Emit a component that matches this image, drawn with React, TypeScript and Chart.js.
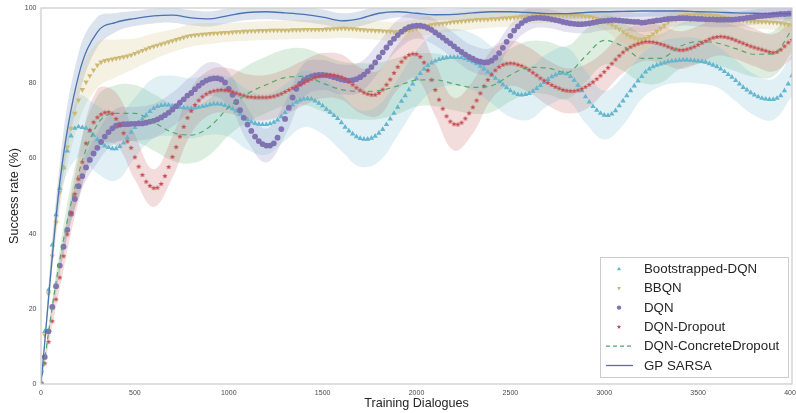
import React, { useEffect, useRef } from 'react';
import { Chart, registerables } from 'chart.js';

Chart.register(...registerables);

// ---------- data ----------
const X_TICKS = [0, 500, 1000, 1500, 2000, 2500, 3000, 3500, 4000];
const Y_TICKS = [0, 20, 40, 60, 80, 100];
const SERIES_LABELS = ['Bootstrapped-DQN', 'BBQN', 'DQN', 'DQN-Dropout', 'DQN-ConcreteDropout', 'GP SARSA'];
const X_TITLE = 'Training Dialogues';
const Y_TITLE = 'Success rate (%)';

// markers every 20 dialogues (0..4000)
const MARKER_X = Array.from({ length: 201 }, (_, i) => i * 20);
// smooth lines and spread bands every 100 dialogues (0..4000)
const LINE_X = Array.from({ length: 41 }, (_, i) => i * 100);

const BOOTSTRAPPED_DQN = [
  0, 14, 25, 37, 45, 52, 57.5, 62, 66, 68,
  68.4, 68.2, 68, 67.3, 66.2, 65, 64, 63.3, 62.9, 62.6,
  62.6, 63.2, 64.1, 65.5, 67, 68.2, 69.4, 70.5, 71.5, 72.5,
  73.3, 73.8, 74.1, 74.2, 74.2, 74, 73.8, 73.6, 73.5, 73.4,
  73.3, 73.4, 73.6, 73.8, 74, 74.3, 74.5, 74.5, 74.4, 74.1,
  73.7, 73.2, 72.6, 71.8, 71, 70.3, 69.7, 69.3, 69.1, 69,
  69, 69.2, 69.6, 70.2, 71.1, 72.2, 73.2, 74.2, 75, 75.5,
  75.8, 75.9, 75.8, 75.3, 74.7, 74, 73.1, 72.3, 71.4, 70.6,
  69.5, 68.3, 67.3, 66.5, 65.8, 65.3, 65.1, 65.1, 65.4, 65.9,
  66.7, 67.7, 69, 70.5, 72, 73.6, 75.2, 76.7, 78.3, 79.8,
  81.2, 82.6, 83.8, 84.7, 85.4, 85.9, 86.3, 86.6, 86.8, 86.9,
  86.9, 86.9, 86.8, 86.5, 86.1, 85.7, 85.2, 84.5, 83.8, 83,
  82.2, 81.3, 80.4, 79.6, 78.8, 78, 77.4, 77, 76.9, 77,
  77.3, 77.9, 78.6, 79.4, 80.2, 81, 81.7, 82.2, 82.6, 82.7,
  82.5, 81.8, 80.8, 79.5, 78, 76.4, 75, 73.8, 72.8, 72,
  71.5, 71.4, 71.8, 72.7, 74, 75.3, 76.7, 78, 79.3, 80.6,
  81.8, 83, 83.8, 84.4, 84.8, 85.1, 85.4, 85.7, 85.9, 86,
  86.1, 86.2, 86.2, 86.1, 86, 85.9, 85.8, 85.6, 85.2, 84.8,
  84.4, 83.8, 83.1, 82.3, 81.6, 80.7, 79.8, 78.9, 78.2, 77.5,
  76.9, 76.4, 76, 75.8, 75.7, 75.7, 76, 76.7, 78, 79.8,
  82,
];

const BBQN = [
  0, 13, 24, 34, 43, 51, 57.5, 63, 68, 72,
  75.5, 78.3, 80.3, 82, 83.5, 84.8, 85.6, 86, 86.2, 86.4,
  86.6, 86.8, 87, 87.2, 87.5, 87.9, 88.3, 88.7, 89.1, 89.5,
  89.8, 90.1, 90.4, 90.7, 91, 91.3, 91.6, 91.9, 92.2, 92.5,
  92.7, 92.8, 92.9, 93, 93.1, 93.2, 93.3, 93.3, 93.4, 93.5,
  93.5, 93.6, 93.7, 93.7, 93.8, 93.8, 93.9, 93.9, 94, 94,
  94, 94.1, 94.1, 94.1, 94.1, 94.1, 94.1, 94.2, 94.2, 94.2,
  94.3, 94.3, 94.3, 94.3, 94.3, 94.3, 94.4, 94.4, 94.5, 94.5,
  94.6, 94.6, 94.5, 94.5, 94.4, 94.3, 94.2, 94.1, 94.1, 94,
  94, 93.9, 93.8, 93.8, 93.7, 93.7, 93.7, 93.8, 94, 94.3,
  94.6, 94.9, 95.1, 95.3, 95.5, 95.7, 95.8, 95.9, 96, 96.2,
  96.3, 96.4, 96.5, 96.6, 96.7, 96.8, 96.9, 96.9, 97, 97,
  97.1, 97.1, 97.2, 97.3, 97.3, 97.4, 97.5, 97.6, 97.7, 97.8,
  97.8, 97.9, 97.9, 98, 98, 98, 98.1, 98.1, 98.1, 98.1,
  98.1, 98.1, 98, 98, 97.9, 97.8, 97.7, 97.5, 97.2, 96.9,
  96.6, 96.1, 95.6, 95, 94.4, 93.7, 93, 92.4, 92, 91.7,
  91.7, 91.9, 92.4, 93.1, 93.8, 94.6, 95.4, 96.2, 96.9, 97.4,
  97.8, 98, 98.1, 98.1, 98.2, 98.2, 98.2, 98.1, 98.1, 98,
  97.9, 97.7, 97.5, 97.3, 97.1, 96.9, 96.8, 96.7, 96.6, 96.5,
  96.4, 96.4, 96.3, 96.3, 96.2, 96.2, 96.1, 96, 95.8, 95.6,
  95.4,
];

const DQN = [
  0, 7.2, 14, 20.5, 26, 31.5, 36.5, 41, 45.3, 49.2,
  52.6, 55.3, 57.6, 59.6, 61.3, 62.8, 64.4, 65.8, 67, 68,
  68.7, 69, 69.1, 69.1, 69.2, 69.2, 69.3, 69.3, 69.5, 69.8,
  70, 70.4, 70.9, 71.5, 72.2, 73, 73.9, 74.8, 75.7, 76.7,
  77.4, 78.4, 79.3, 80.1, 80.7, 81.1, 81.3, 81.3, 81, 80.2,
  78.5, 76.9, 75, 72.8, 70.8, 69, 67.3, 65.8, 64.6, 63.8,
  63.4, 63.4, 64, 65.5, 67.8, 70.5, 73.5, 76.2, 78.5, 79.9,
  80.8, 81.4, 81.8, 82.1, 82.2, 82.2, 82.1, 81.9, 81.6, 81.3,
  81, 80.8, 80.7, 80.8, 81.1, 81.6, 82.3, 83.2, 84.3, 85.5,
  86.9, 88.2, 89.5, 90.7, 91.8, 92.8, 93.7, 94.4, 94.9, 95.2,
  95.3, 95.3, 95.1, 94.7, 94.2, 93.5, 92.8, 92.1, 91.3, 90.6,
  89.8, 89, 88.3, 87.6, 87, 86.5, 86, 85.7, 85.5, 85.6,
  86, 86.8, 88, 89.4, 91, 92.6, 94, 95.1, 96, 96.7,
  97.1, 97.3, 97.4, 97.4, 97.3, 97.2, 97, 96.8, 96.6, 96.3,
  96.1, 95.9, 95.8, 95.7, 95.7, 95.8, 95.9, 96.1, 96.3, 96.5,
  96.6, 96.7, 96.8, 96.8, 96.7, 96.6, 96.5, 96.4, 96.3, 96.3,
  96.1, 96.2, 96.4, 96.5, 96.7, 96.8, 97, 97.1, 97.2, 97.2,
  97.3, 97.3, 97.3, 97.2, 97.2, 97.1, 97.1, 97, 97, 97,
  96.9, 96.9, 96.9, 96.9, 96.9, 97, 97.1, 97.2, 97.4, 97.5,
  97.6, 97.8, 97.9, 98, 98.1, 98.2, 98.3, 98.4, 98.4, 98.5,
  98.5,
];

const DQN_DROPOUT = [
  0, 5.5, 11.2, 16.7, 22.5, 28.3, 34, 39.8, 45.5, 50.5,
  54.5, 59, 64, 67.5, 69.6, 70.9, 71.7, 72.2, 72.3, 71.9,
  70.5, 68.8, 66.7, 64.5, 62.8, 60.3, 57.8, 55.6, 53.8, 52.7,
  52.1, 52.2, 53.2, 55.3, 57.7, 60.4, 63, 65.8, 68.4, 70.8,
  72.6, 74.2, 75.4, 76.4, 77.1, 77.6, 77.9, 78.1, 78.2, 78.1,
  78, 77.7, 77.3, 77, 76.7, 76.4, 76.3, 76.2, 76.2, 76.2,
  76.2, 76.3, 76.5, 76.8, 77.2, 77.7, 78.2, 78.7, 79.2, 79.6,
  80.1, 80.6, 81.1, 81.5, 81.8, 82, 82.2, 82.2, 82.1, 81.9,
  81.6, 81.1, 80.4, 79.6, 78.8, 78.1, 77.5, 77.1, 76.9, 76.9,
  77.4, 78.3, 79.6, 81, 82.7, 84.3, 85.7, 86.8, 87.5, 87.8,
  87.7, 87, 85.5, 83.4, 80.9, 78.2, 75.6, 73.2, 71.2, 69.8,
  69.1, 69, 69.5, 70.6, 72, 73.6, 75.4, 77.3, 79.2, 80.9,
  82.3, 83.4, 84.3, 84.9, 85.2, 85.3, 85.2, 84.9, 84.6, 84.1,
  83.5, 82.8, 82.1, 81.3, 80.7, 80.1, 79.5, 79, 78.6, 78.2,
  78, 77.9, 77.9, 78.1, 78.5, 79, 79.6, 80.3, 81.1, 82,
  83, 84.1, 85.2, 86.3, 87.3, 88.2, 89, 89.6, 90.1, 90.5,
  90.8, 91, 91, 90.9, 90.7, 90.4, 90.1, 89.7, 89.3, 89,
  88.8, 88.8, 89, 89.3, 89.7, 90.2, 90.7, 91.2, 91.7, 92.1,
  92.3, 92.4, 92.3, 92.1, 91.8, 91.4, 91, 90.6, 90.2, 89.8,
  89.5, 89.2, 88.9, 88.6, 88.3, 88.1, 88.3, 88.9, 89.8, 90.8,
  91.5,
];

const DQN_CONCRETE_DROPOUT = [
  0, 33, 56, 69, 72, 72, 69.6, 66.9, 66.2, 68.5,
  73.6, 77.2, 79.6, 81.5, 81.8, 80, 78.3, 77.8, 78, 79.3,
  80.8, 80.9, 79.8, 78.9, 79.3, 82.2, 84.2, 84, 82.8, 87.2,
  91.4, 89.8, 86.6, 86.6, 89.7, 91.1, 90.7, 89.2, 87.7, 87.8,
  94.3,
];

const GP_SARSA = [
  0, 53.5, 82, 93.6, 96.2, 97.2, 97.9, 98.1, 97.4, 97.1,
  98, 98.8, 99, 98.7, 98.3, 97.6, 96.6, 97.2, 98.6, 99,
  98.6, 98.2, 98.3, 98.7, 99, 99, 98.8, 98.5, 98.5, 98.8,
  99, 99.1, 99.2, 99.2, 99.2, 99, 98.9, 98.7, 98.6, 98.5,
  98.5,
];

// half-width of the shaded spread, every 100 dialogues
const BOOTSTRAPPED_DQN_SPREAD = [
  0, 3, 8, 9, 8.5, 8, 8, 8, 8, 8,
  8, 8, 8, 7.5, 7.5, 7.5, 7.5, 7.5, 7.5, 7.5,
  7.5, 7.5, 7.5, 7.5, 7.5, 7, 7, 7, 7, 7,
  6.5, 6.5, 6, 6, 6, 6, 5.5, 5.5, 5.5, 5.5,
  5.5,
];
const BBQN_SPREAD = [
  0, 5, 6, 6, 5, 4, 3.5, 3, 3, 2.8,
  2.5, 2.5, 2.5, 2.5, 2.5, 2.5, 2.5, 2.5, 2.5, 2.5,
  2.5, 2.5, 2.5, 2.5, 2.3, 2.3, 2, 2, 2, 2,
  2.5, 3, 3, 2.5, 2.5, 2, 2, 2, 2, 2,
  2,
];
const DQN_SPREAD = [
  0, 2, 3, 4, 4.5, 4.5, 4.5, 4.5, 4.5, 4.5,
  4.5, 4.5, 4.5, 4.5, 4.5, 4, 4, 4, 4, 4,
  3.5, 3.5, 3.5, 3.5, 3.5, 3, 3, 2.5, 2.5, 2.5,
  2.5, 2.5, 2.5, 2.5, 2, 2, 2, 2, 2, 2,
  2,
];
const DQN_DROPOUT_SPREAD = [
  0, 3, 6, 7.5, 7, 6, 5, 5.5, 6, 6,
  6, 6, 6, 6, 6, 6, 6, 6, 6, 6,
  6.5, 7, 7, 7, 6.5, 6, 6, 6, 6, 6,
  5.5, 5.5, 5, 5, 5, 5, 5, 5, 5, 5,
  5,
];
const DQN_CONCRETE_DROPOUT_SPREAD = [
  0, 3, 6, 7.5, 7.5, 7.5, 7.5, 7.5, 7.5, 7.5,
  7.5, 7.5, 7.5, 7.5, 7.5, 7.5, 7.5, 7.5, 7.5, 7.5,
  7, 7, 7, 7, 7, 7, 7, 7, 7, 7,
  6.5, 6.5, 6.5, 6.5, 6, 6, 6, 6, 6, 6,
  6,
];
const GP_SARSA_SPREAD = [
  0, 5, 6, 4, 2.5, 2, 2, 2, 2, 2,
  2, 2, 2, 2, 2, 2, 2, 2, 2, 1.5,
  1.5, 1.5, 1.5, 1.5, 1.5, 1.5, 1.5, 1.5, 1.5, 1.5,
  1.5, 1.5, 1.5, 1.5, 1.5, 1.5, 1.5, 1.5, 1.5, 1.5,
  1.5,
];

// ---------- styling ----------
const COLORS = ['#64B5CD', '#CCB974', '#8172B2', '#C44E52', '#55A868', '#4C72B0'];
const FONT = '"Liberation Sans", Arial, "DejaVu Sans", sans-serif';

function rgba(hex: string, a: number) {
  const n = parseInt(hex.slice(1), 16);
  return `rgba(${(n >> 16) & 255},${(n >> 8) & 255},${n & 255},${a})`;
}

function drawStar(g: CanvasRenderingContext2D, cx: number, cy: number, r: number, color: string) {
  g.fillStyle = color;
  g.beginPath();
  for (let i = 0; i < 10; i++) {
    const rr = i % 2 === 0 ? r : r * 0.45;
    const a = -Math.PI / 2 + (i * Math.PI) / 5;
    const px = cx + rr * Math.cos(a);
    const py = cy + rr * Math.sin(a);
    if (i === 0) g.moveTo(px, py);
    else g.lineTo(px, py);
  }
  g.closePath();
  g.fill();
}

function makeStar(color: string, r: number) {
  const size = Math.ceil(r * 2) + 2;
  const c = document.createElement('canvas');
  c.width = size;
  c.height = size;
  const g = c.getContext('2d')!;
  drawStar(g, size / 2, size / 2, r, color);
  return c;
}

function pts(xs: number[], ys: number[]) {
  return ys.map((y, i) => ({ x: xs[i], y }));
}

function valuesAtLineX(series: number[], step: number) {
  return LINE_X.map((x) => series[Math.round(x / step)]);
}

const framePlugin = {
  id: 'frameAndLegend',
  afterDraw(chart: any) {
    const { ctx, chartArea } = chart;
    ctx.save();
    ctx.strokeStyle = '#cccccc';
    ctx.lineWidth = 1.25;
    ctx.strokeRect(chartArea.left, chartArea.top, chartArea.right - chartArea.left, chartArea.bottom - chartArea.top);

    const boxL = chartArea.right - 192;
    const boxT = chartArea.bottom - 127;
    const boxR = chartArea.right - 3;
    const boxB = chartArea.bottom - 6;
    ctx.fillStyle = 'rgba(255,255,255,0.85)';
    ctx.fillRect(boxL, boxT, boxR - boxL, boxB - boxT);
    ctx.strokeStyle = '#cccccc';
    ctx.lineWidth = 1;
    ctx.strokeRect(boxL + 0.5, boxT + 0.5, boxR - boxL - 1, boxB - boxT - 1);

    const mx = boxL + 19;
    const tx = boxL + 44;
    SERIES_LABELS.forEach((label, i) => {
      const y = boxT + 12 + i * 19.3;
      const col = COLORS[i];
      ctx.fillStyle = col;
      ctx.strokeStyle = col;
      if (i === 0) {
        ctx.beginPath();
        ctx.moveTo(mx, y - 2.2);
        ctx.lineTo(mx + 2, y + 1.3);
        ctx.lineTo(mx - 2, y + 1.3);
        ctx.closePath();
        ctx.fill();
      } else if (i === 1) {
        ctx.beginPath();
        ctx.moveTo(mx, y + 2.2);
        ctx.lineTo(mx + 2, y - 1.3);
        ctx.lineTo(mx - 2, y - 1.3);
        ctx.closePath();
        ctx.fill();
      } else if (i === 2) {
        ctx.beginPath();
        ctx.arc(mx, y, 2.2, 0, Math.PI * 2);
        ctx.fill();
      } else if (i === 3) {
        drawStar(ctx, mx, y, 2.2, col);
      } else if (i === 4) {
        ctx.lineWidth = 1.2;
        ctx.setLineDash([4, 3]);
        ctx.beginPath();
        ctx.moveTo(mx - 13, y);
        ctx.lineTo(mx + 14, y);
        ctx.stroke();
        ctx.setLineDash([]);
      } else {
        ctx.lineWidth = 1.3;
        ctx.beginPath();
        ctx.moveTo(mx - 13, y);
        ctx.lineTo(mx + 14, y);
        ctx.stroke();
      }
      ctx.fillStyle = '#262626';
      ctx.font = `13.3px ${FONT}`;
      ctx.textAlign = 'left';
      ctx.textBaseline = 'middle';
      ctx.fillText(label, tx, y + 0.5);
    });
    ctx.restore();
  },
};

export default function App() {
  const ref = useRef<HTMLCanvasElement>(null);

  useEffect(() => {
    if (!ref.current) return;
    const star = makeStar(COLORS[3], 2.8);

    const markerSeries = [BOOTSTRAPPED_DQN, BBQN, DQN, DQN_DROPOUT];
    const lineSeries = [DQN_CONCRETE_DROPOUT, GP_SARSA];
    const spreads = [
      BOOTSTRAPPED_DQN_SPREAD,
      BBQN_SPREAD,
      DQN_SPREAD,
      DQN_DROPOUT_SPREAD,
      DQN_CONCRETE_DROPOUT_SPREAD,
      GP_SARSA_SPREAD,
    ];

    const datasets: any[] = [];
    for (let s = 0; s < 6; s++) {
      const centre = s < 4 ? valuesAtLineX(markerSeries[s], 20) : lineSeries[s - 4];
      const lower = centre.map((v, k) => v - spreads[s][k]);
      const upper = centre.map((v, k) => v + spreads[s][k]);
      datasets.push({
        data: pts(LINE_X, lower),
        borderWidth: 0,
        borderColor: 'rgba(0,0,0,0)',
        pointRadius: 0,
        tension: 0.4,
        fill: false,
        order: 20,
      });
      datasets.push({
        data: pts(LINE_X, upper),
        borderWidth: 0,
        borderColor: 'rgba(0,0,0,0)',
        backgroundColor: rgba(COLORS[s], 0.2),
        pointRadius: 0,
        tension: 0.4,
        fill: '-1',
        order: 20,
      });
    }
    const styles: any[] = ['triangle', 'triangle', 'circle', star];
    const radii = [3.1, 3.1, 2.9, 3];
    const rot = [0, 180, 0, 0];
    const orders = [9, 8, 7, 6];
    for (let s = 0; s < 4; s++) {
      datasets.push({
        label: SERIES_LABELS[s],
        data: pts(MARKER_X, markerSeries[s]),
        showLine: false,
        pointStyle: styles[s],
        pointRadius: radii[s],
        pointRotation: rot[s],
        pointBackgroundColor: COLORS[s],
        pointBorderWidth: 0,
        pointBorderColor: COLORS[s],
        order: orders[s],
      });
    }
    datasets.push({
      label: SERIES_LABELS[4],
      data: pts(LINE_X, DQN_CONCRETE_DROPOUT),
      borderColor: COLORS[4],
      borderWidth: 1.2,
      borderDash: [5, 4],
      pointRadius: 0,
      cubicInterpolationMode: 'monotone',
      fill: false,
      order: 2,
    });
    datasets.push({
      label: SERIES_LABELS[5],
      data: pts(LINE_X, GP_SARSA),
      borderColor: COLORS[5],
      borderWidth: 1.3,
      pointRadius: 0,
      cubicInterpolationMode: 'monotone',
      fill: false,
      order: 1,
    });

    const chart = new Chart(ref.current, {
      type: 'line',
      data: { datasets },
      plugins: [framePlugin],
      options: {
        responsive: false,
        animation: false,
        events: [],
        layout: { padding: { left: 0, top: 8, right: 3, bottom: 0 } },
        plugins: {
          legend: { display: false },
          tooltip: { enabled: false },
        },
        scales: {
          x: {
            type: 'linear',
            min: 0,
            max: 4000,
            grid: { display: false, drawTicks: false },
            border: { display: false },
            afterBuildTicks: (scale: any) => {
              scale.ticks = X_TICKS.map((v) => ({ value: v }));
            },
            afterFit: (scale: any) => {
              scale.height = 29;
              scale.paddingLeft = 0;
              scale.paddingRight = 0;
            },
            ticks: {
              autoSkip: false,
              maxRotation: 0,
              padding: 5,
              color: '#4a4a4a',
              font: { family: FONT, size: 7 },
              callback: (v: any) => String(v),
            },
            title: {
              display: true,
              text: X_TITLE,
              color: '#262626',
              font: { family: FONT, size: 12.6 },
              padding: { top: 0, bottom: 2 },
            },
          },
          y: {
            type: 'linear',
            min: 0,
            max: 100,
            grid: { display: false, drawTicks: false },
            border: { display: false },
            afterBuildTicks: (scale: any) => {
              scale.ticks = Y_TICKS.map((v) => ({ value: v }));
            },
            afterFit: (scale: any) => {
              scale.width = 41;
              scale.paddingTop = 0;
              scale.paddingBottom = 0;
            },
            ticks: {
              padding: 4.5,
              color: '#4a4a4a',
              font: { family: FONT, size: 7 },
              callback: (v: any) => String(v),
            },
            title: {
              display: true,
              text: Y_TITLE,
              color: '#262626',
              font: { family: FONT, size: 12.6 },
              padding: { top: 6.5, bottom: 0 },
            },
          },
        },
      },
    });
    return () => chart.destroy();
  }, []);

  return (
    <div style={{ position: 'fixed', left: 0, top: 0, width: 796, height: 413, background: '#fff' }}>
      <canvas ref={ref} width={796} height={413} style={{ display: 'block' }} />
    </div>
  );
}
